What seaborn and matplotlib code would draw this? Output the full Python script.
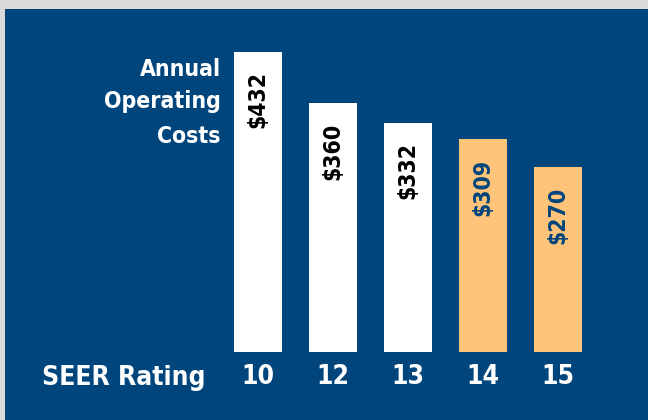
import matplotlib
matplotlib.use("Agg")
import matplotlib.pyplot as plt
import seaborn as sns
import pandas as pd
from matplotlib.patches import Rectangle

ratings = ["10", "12", "13", "14", "15"]
costs = [432, 360, 332, 309, 270]
labels = ["$432", "$360", "$332", "$309", "$270"]
bar_colors = ["#FFFFFF", "#FFFFFF", "#FFFFFF", "#FFC479", "#FFC479"]
text_colors = ["#000000", "#000000", "#000000", "#01457D", "#01457D"]

BLUE = "#01457D"
GRAY = "#D9D9DB"
FONT = ["DejaVu Sans"]

sns.set_theme(style="white")
plt.rcParams["font.family"] = FONT
plt.rcParams["font.stretch"] = "condensed"

df = pd.DataFrame({"rating": ratings, "cost": costs})

W, H = 648, 420
fig = plt.figure(figsize=(W / 100, H / 100), dpi=100)
fig.patch.set_facecolor(GRAY)
fig.patches.append(Rectangle((5 / W, 0), 1, (H - 9) / H, transform=fig.transFigure,
                             facecolor=BLUE, edgecolor="none", zorder=-5))

ax = fig.add_axes([220.5 / W, (H - 352) / H, 375 / W, 330 / H])
ax.set_zorder(2)
ax.set_facecolor("none")
sns.barplot(data=df, x="rating", y="cost", hue="rating", palette=bar_colors,
            width=0.627, legend=False, ax=ax, saturation=1, edgecolor="none")
ax.set_xlim(-0.5, 4.5)
ybase = 9.4
ax.set_ylim(ybase, ybase + 330 / 0.71)
for s in ax.spines.values():
    s.set_visible(False)
ax.set_yticks([])
ax.set_xlabel("")
ax.set_ylabel("")
ax.tick_params(axis="x", length=0, pad=9, labelsize=19, labelcolor="white")
for t in ax.get_xticklabels():
    t.set_fontweight("bold")
    t.set_fontstretch("condensed")

for i, (v, lab, tc) in enumerate(zip(costs, labels, text_colors)):
    ax.annotate(lab, xy=(i, v), xytext=(0, -14), textcoords="offset points",
                rotation=90, ha="center", va="top", color=tc,
                fontsize=16.5, fontweight="bold", fontstretch="condensed")

for txt, yb in [("Annual", 76), ("Operating", 108), ("Costs", 143)]:
    fig.text(221 / W, (H - yb) / H, txt, ha="right", va="baseline",
             color="white", fontsize=16.5, fontweight="bold", fontstretch="condensed")

fig.text(205 / W, (H - 385) / H, "SEER Rating", ha="right", va="baseline",
         color="white", fontsize=19, fontweight="bold", fontstretch="condensed")

fig.savefig("out.png", dpi=100, facecolor=fig.get_facecolor())
